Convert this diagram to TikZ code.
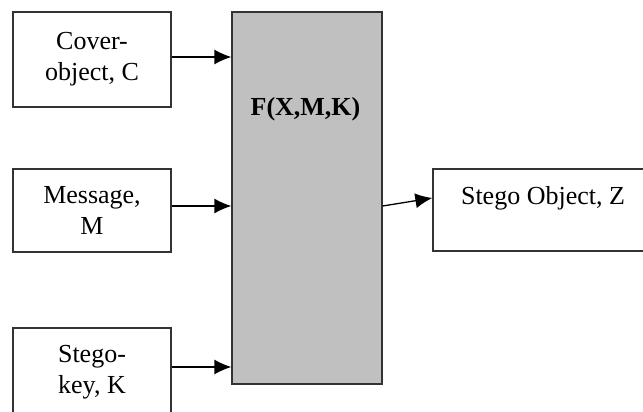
\documentclass[tikz,border=0pt]{standalone}
\usepackage{fontspec}
\setmainfont{Liberation Serif}
\usetikzlibrary{arrows.meta}
\begin{document}
\begin{tikzpicture}[x=1pt,y=-1pt,
  blk/.style={draw=black!80,line width=1.3pt,inner sep=0pt,align=center,
    font=\fontsize{26}{31}\selectfont},
  txt/.style={inner sep=0pt,font=\fontsize{26}{31}\selectfont},
  arr/.style={line width=1.3pt,-{Latex[length=17pt,width=15pt]}}]
\useasboundingbox (0,0) rectangle (643,412);
\clip (0,0) rectangle (643,412);
\node[blk,minimum width=158pt,minimum height=95pt] (cover) at (92,59.5) {Cover-\\object, C};
\node[blk,minimum width=158pt,minimum height=83pt] (msg) at (92,210.5) {Message,\\M};
\node[blk,minimum width=158pt,minimum height=88pt] (key) at (92,372) {Stego-\\key, K};
\node[blk,fill={rgb,255:red,192;green,192;blue,192},minimum width=150pt,minimum height=372pt] (f) at (307,198) {};
\node[txt,anchor=base,font=\fontsize{26}{31}\selectfont\bfseries] (flabel) at (305.5,115) {F(X,M,K)};
\node[blk,minimum width=220pt,minimum height=82pt] (so) at (543,210) {};
\node[txt,anchor=base] (sotext) at (543,204) {Stego Object, Z};
\draw[arr] ([yshift=2.5pt]cover.east) -- ([yshift=2.5pt]cover.east -| f.west);
\draw[arr] ([yshift=4.5pt]msg.east) -- ([yshift=4.5pt]msg.east -| f.west);
\draw[arr] ([yshift=5pt]key.east) -- ([yshift=5pt]key.east -| f.west);
\draw[arr] ([yshift=-8pt]f.east) -- ([yshift=12pt]so.west);
\end{tikzpicture}
\end{document}
